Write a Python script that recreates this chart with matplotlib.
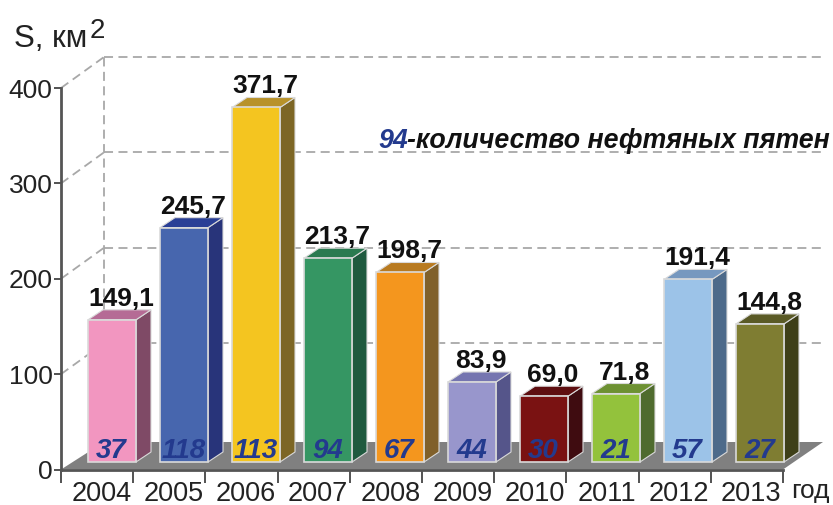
#!/usr/bin/env python3

import matplotlib
matplotlib.use("Agg")
import matplotlib.pyplot as plt

plt.rcParams["font.family"] = ["Liberation Sans", "DejaVu Sans"]

years = ["2004", "2005", "2006", "2007", "2008", "2009", "2010", "2011", "2012", "2013"]
areas = [149.1, 245.7, 371.7, 213.7, 198.7, 83.9, 69.0, 71.8, 191.4, 144.8]
area_labels = ["149,1", "245,7", "371,7", "213,7", "198,7", "83,9", "69,0", "71,8", "191,4", "144,8"]
spots = ["37", "118", "113", "94", "67", "44", "30", "21", "57", "27"]
y_ticks = [0, 100, 200, 300, 400]

front_colors = ["#F296C0", "#4766AE", "#F4C520", "#359663", "#F4961E",
                "#9896CC", "#7A1212", "#93C23C", "#9CC3E8", "#7F7D32"]
side_colors = ["#7F4A66", "#28347A", "#7D6625", "#1F5A3F", "#80602A",
               "#55558A", "#3F0C10", "#4F6B2E", "#4D6A8A", "#3E3F18"]
top_colors = ["#B56B95", "#2A3F96", "#B8922A", "#2A7A50", "#B87A20",
              "#7575B0", "#5E0E10", "#6D9132", "#7698BF", "#5A5A26"]

W, H = 833, 505
AX_L, AX_R, AX_T, AX_B = 61, 783, 88, 469.5

fig = plt.figure(figsize=(W / 100, H / 100), dpi=100)
ax = fig.add_axes([AX_L / W, 1 - AX_B / H, (AX_R - AX_L) / W, (AX_B - AX_T) / H])
ax.set_xlim(-0.5, 9.5)
ax.set_ylim(0, 400)
ax.patch.set_alpha(0)

# size of one pixel in data units, the 3D look is all done in pixels
px_x = 10 / (AX_R - AX_L)
px_y = 400 / (AX_B - AX_T)

# floor
ax.fill([-0.5, 9.5, 9.5 + 40 * px_x, -0.5 + 43 * px_x],
        [0, 0, 27.5 * px_y, 27.5 * px_y],
        color="#808080", zorder=1, clip_on=False, lw=0)

# dashed walls
grid_style = dict(color="#A8A8A8", lw=1.3, dashes=(5, 3), zorder=0.5, clip_on=False)
back_x = -0.5 + 43 * px_x
for v in y_ticks[1:]:
    ax.plot([-0.5, back_x], [v, v + 31 * px_y], **grid_style)
    ax.plot([back_x, -0.5 + 764 * px_x], [v + 31 * px_y] * 2, **grid_style)
ax.plot([back_x, back_x], [27.5 * px_y, 400 + 31 * px_y], **grid_style)

# bars
base = 7.5 * px_y
depth_x = 15 * px_x
depth_y = 10 * px_y
width = 48 * px_x
edge = "#DADADA"
centers = [51 * px_x - 0.5 + i * 72 * px_x for i in range(len(years))]

for i, v in enumerate(areas):
    x0 = centers[i] - width / 2
    x1 = centers[i] + width / 2
    top = base + v
    ax.fill([x1, x1 + depth_x, x1 + depth_x, x1],
            [base, base + depth_y, top + depth_y, top],
            facecolor=side_colors[i], edgecolor=edge, lw=0.8, zorder=2, clip_on=False)
    ax.fill([x0, x1, x1 + depth_x, x0 + depth_x],
            [top, top, top + depth_y, top + depth_y],
            facecolor=top_colors[i], edgecolor=edge, lw=0.8, zorder=2, clip_on=False)
    ax.bar(centers[i], v, width, bottom=base, color=front_colors[i],
           edgecolor=edge, lw=1.2, zorder=3, clip_on=False)
    ax.text(centers[i] + 9 * px_x, top + depth_y + 4 * px_y, area_labels[i],
            ha="center", va="baseline", fontsize=19, fontweight="bold", color="#111111", zorder=5)
    ax.text(centers[i] - 0.5 * px_x, 12 * px_y, spots[i],
            ha="center", va="baseline", fontsize=20, fontweight="bold", style="italic",
            color="#233A8E", zorder=5)

# axes
for name in ["top", "right"]:
    ax.spines[name].set_visible(False)
ax.spines["left"].set_color("#555555")
ax.spines["left"].set_linewidth(2)
ax.spines["bottom"].set_color("#555555")
ax.spines["bottom"].set_linewidth(2)
ax.spines["left"].set_zorder(6)
ax.spines["bottom"].set_zorder(6)

ax.set_yticks(y_ticks)
ax.tick_params(axis="y", length=5, width=1.3, color="#444444", labelsize=19,
               labelcolor="#222222", pad=1)

ax.set_xticks([i + 0.5 for i in range(-1, 10)])
ax.set_xticklabels([])
ax.tick_params(axis="x", which="major", length=9, width=1.3, color="#444444")
ax.set_xticks([i + 0.06 for i in range(len(years))], minor=True)
ax.set_xticklabels(years, minor=True)
ax.tick_params(axis="x", which="minor", length=0, labelsize=19.5, labelcolor="#222222", pad=8)

# captions in pixel position
def put(x, y, s, **kw):
    fig.text(x / W, 1 - y / H, s, va="baseline", **kw)

put(14, 47, "S, км", fontsize=22.5, color="#222222")
put(90, 38, "2", fontsize=20, color="#222222")
put(791, 498, "год", fontsize=19, color="#222222")
put(378, 148, "94", fontsize=19.3, fontweight="bold", style="italic", color="#233A8E")
put(407, 148, "-количество нефтяных пятен", fontsize=19.3, fontweight="bold", style="italic",
    color="#111111")

fig.savefig("out.png", dpi=100)
